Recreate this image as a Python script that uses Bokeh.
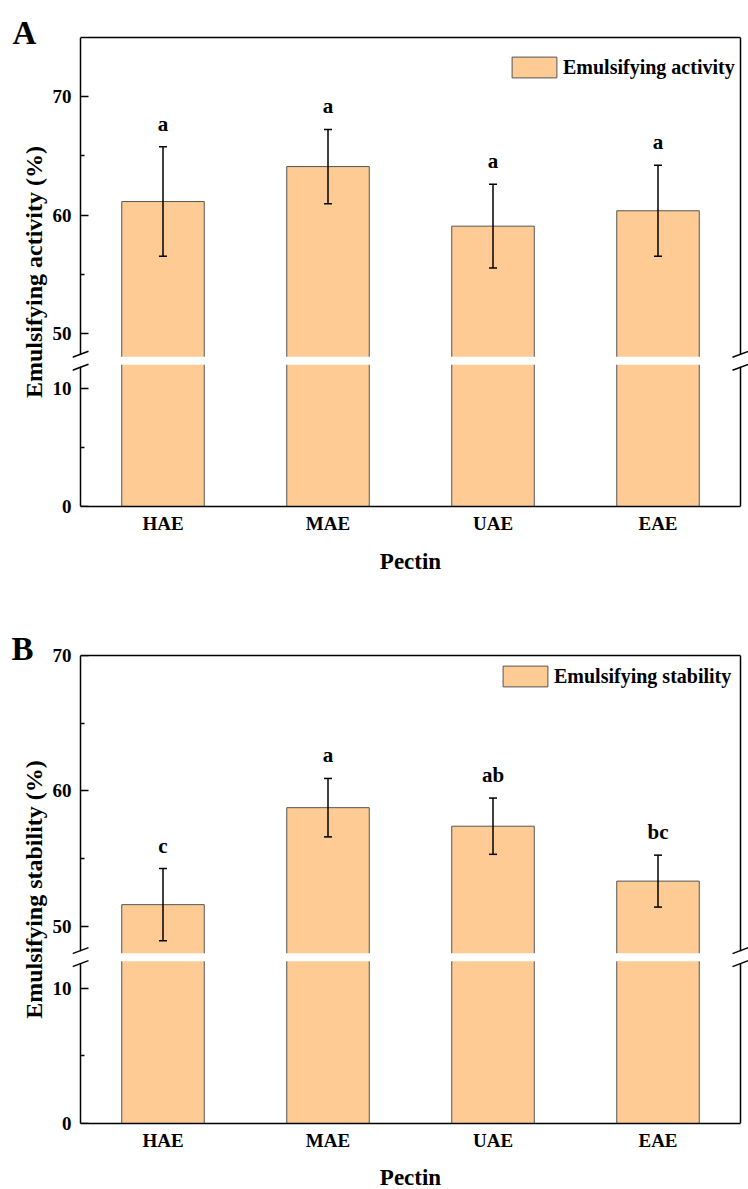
from bokeh.plotting import figure
from bokeh.models import (ColumnDataSource, FactorRange, Range1d, LinearAxis,
                          FixedTicker, CustomJSTickFormatter, Whisker, TeeHead, Legend,
                          LegendItem, Title, Arrow, BoxAnnotation, CustomLabelingPolicy)
from bokeh.layouts import column
from bokeh.embed import file_html
from bokeh.resources import INLINE
from bokeh.core.properties import value

# ---------------- data ----------------
categories = ["HAE", "MAE", "UAE", "EAE"]
activity_mean = [61.15, 64.1, 59.07, 60.37]
activity_err = [4.63, 3.14, 3.54, 3.84]
activity_letters = ["a", "a", "a", "a"]
stability_mean = [51.58, 58.75, 57.38, 53.32]
stability_err = [2.67, 2.16, 2.08, 1.92]
stability_letters = ["c", "a", "ab", "bc"]
lower_ticks = [0, 10]
lower_minor = [5]
activity_upper_ticks = [50, 60, 70]
activity_upper_minor = [55, 65]
stability_upper_ticks = [50, 60, 70]
stability_upper_minor = [55, 65]

# ---------------- style ----------------
FONT = "Liberation Serif"
BAR_FILL = "#FECB94"
BAR_LINE = "#555555"
BREAK_LOW = 12.3     # top of lower segment
BREAK_HIGH = 47.7    # bottom of upper segment
BOX_W = 660          # width of the drawn box (axes)
PAD = 8              # extra frame pixels on each side so break marks are not clipped


def make_panel(tag, ylabel, leg_label, means, errs, letters, ymax, up_ticks, up_minor,
               min_top, frame_h, min_bottom, leg_xy, tag_standoff, tag_offset,
               pectin_standoff):
    n = len(categories)
    off = BREAK_HIGH - BREAK_LOW
    disp_top = ymax - off
    dx = n / BOX_W
    dy = disp_top / frame_h
    p = figure(x_range=FactorRange(*categories, range_padding=PAD * dx,
                                   range_padding_units="absolute"),
               y_range=Range1d(0, disp_top),
               frame_width=BOX_W + 2 * PAD, frame_height=frame_h,
               min_border_left=80 - PAD, min_border_right=0,
               min_border_top=min_top, min_border_bottom=min_bottom,
               output_backend="svg", toolbar_location=None,
               background_fill_color="white", border_fill_color="white")
    p.outline_line_color = None
    p.grid.visible = False
    p.extra_y_ranges = {"upper": Range1d(off, ymax)}

    src = ColumnDataSource(dict(
        cat=categories, mean=means,
        upper=[m + e for m, e in zip(means, errs)],
        lower=[m - e for m, e in zip(means, errs)],
        letter=letters))

    # lower part of bars (lower scale) and upper part (upper scale)
    p.vbar(x="cat", bottom=0, top=BREAK_LOW, width=0.5, source=src,
           fill_color=BAR_FILL, line_color=BAR_LINE, line_width=1)
    upper_bar = p.vbar(x="cat", bottom=BREAK_HIGH, top="mean", width=0.5, source=src,
                       y_range_name="upper",
                       fill_color=BAR_FILL, line_color=BAR_LINE, line_width=1)

    p.add_layout(Whisker(source=src, base="cat", upper="upper", lower="lower",
                         y_range_name="upper", level="annotation",
                         line_color="black", line_width=1.5,
                         upper_head=TeeHead(size=8, line_width=1.5, line_color="black"),
                         lower_head=TeeHead(size=8, line_width=1.5, line_color="black")))

    p.text(x="cat", y="upper", text="letter", source=src, y_range_name="upper",
           text_align="center", text_baseline="alphabetic", y_offset=-23,
           text_font=value(FONT), text_font_style="bold", text_font_size="21px",
           text_color="black")

    # y axis: labels on the regular axis, line + inward ticks on an axis fixed at x=0
    yticker = FixedTicker(ticks=lower_ticks + [t - off for t in up_ticks],
                          minor_ticks=lower_minor + [t - off for t in up_minor])
    ya = p.yaxis[0]
    ya.ticker = yticker
    ya.formatter = CustomJSTickFormatter(args=dict(brk=BREAK_LOW, off=off),
                                         code="return String(Math.round(tick > brk ? tick + off : tick));")
    ya.axis_label = ylabel
    ya.axis_line_color = None
    ya.major_tick_in = 0
    ya.major_tick_out = 0
    ya.minor_tick_in = 0
    ya.minor_tick_out = 0
    ya.major_label_standoff = 9 - PAD
    ya.axis_label_standoff = 3

    yline = LinearAxis(ticker=yticker, fixed_location=0,
                       major_tick_in=8, major_tick_out=0, minor_tick_in=4, minor_tick_out=0,
                       major_tick_line_width=1.5, minor_tick_line_width=1.5,
                       axis_line_width=1.5, axis_line_color="black",
                       major_label_policy=CustomLabelingPolicy(
                           code="for (const i of indices) { indices.unset(i) } return indices"))
    p.add_layout(yline, "left")

    xa = p.xaxis[0]
    xa.bounds = (0, n)
    xa.axis_label = "Pectin"
    xa.major_tick_in = 0
    xa.major_tick_out = 0
    xa.major_label_standoff = 6
    xa.axis_label_standoff = pectin_standoff
    xa.axis_line_width = 1.5
    xa.axis_line_color = "black"
    for ax in (xa, ya):
        ax.major_label_text_font = FONT
        ax.major_label_text_font_style = "bold"
        ax.major_label_text_font_size = "19px"
        ax.major_label_text_color = "black"
        ax.axis_label_text_font = FONT
        ax.axis_label_text_font_style = "bold"
        ax.axis_label_text_color = "black"
    ya.axis_label_text_font_size = "24px"
    xa.axis_label_text_font_size = "23px"

    # frame lines on the right and top
    right = LinearAxis(ticker=FixedTicker(ticks=[]), fixed_location=n,
                       major_tick_in=0, major_tick_out=0, minor_tick_in=0, minor_tick_out=0,
                       axis_line_width=1.5, axis_line_color="black")
    p.add_layout(right, "right")
    topax = LinearAxis(ticker=FixedTicker(ticks=[]), bounds=(0, n),
                       major_tick_in=0, major_tick_out=0, minor_tick_in=0, minor_tick_out=0,
                       axis_line_width=1.5, axis_line_color="black")
    p.add_layout(topax, "above")

    # axis break: white band across bars, gaps in the side lines, slashes
    p.add_layout(BoxAnnotation(bottom=BREAK_LOW - 4 * dy, top=BREAK_LOW + 4 * dy,
                               left=0, right=n,
                               fill_color="white", fill_alpha=1, line_alpha=0,
                               level="annotation"))
    for x0 in (0, n):
        p.add_layout(Arrow(x_start=x0, y_start=BREAK_LOW - 6 * dy,
                           x_end=x0, y_end=BREAK_LOW + 6 * dy, end=None,
                           line_color="white", line_width=5))
        for k in (-1, 1):
            yc = BREAK_LOW + k * 6.5 * dy
            p.add_layout(Arrow(x_start=x0 - 8 * dx, y_start=yc - 3 * dy,
                               x_end=x0 + 8 * dx, y_end=yc + 3 * dy, end=None,
                               line_color="black", line_width=1.5))

    legend = Legend(items=[LegendItem(label=leg_label, renderers=[upper_bar])],
                    location=leg_xy, padding=5, margin=0, spacing=0,
                    glyph_width=56, glyph_height=26, label_standoff=1,
                    border_line_alpha=0, background_fill_alpha=0,
                    label_text_font=FONT, label_text_font_style="bold",
                    label_text_font_size="20px", label_text_color="black")
    p.add_layout(legend)

    # panel tag
    p.title = Title(text=tag, align="left", vertical_align="bottom",
                    offset=tag_offset, standoff=tag_standoff,
                    text_font=FONT, text_font_style="bold",
                    text_font_size="33px", text_color="black")
    return p


pA = make_panel("A", "Emulsifying activity (%)", "Emulsifying activity",
                activity_mean, activity_err, activity_letters, 75,
                activity_upper_ticks, activity_upper_minor,
                min_top=37, frame_h=469, min_bottom=102,
                leg_xy=(421 + PAD, 421), tag_standoff=-26, tag_offset=12 - (80 - PAD),
                pectin_standoff=12)
pB = make_panel("B", "Emulsifying stability (%)", "Emulsifying stability",
                stability_mean, stability_err, stability_letters, 70,
                stability_upper_ticks, stability_upper_minor,
                min_top=47, frame_h=468, min_bottom=66,
                leg_xy=(412 + PAD, 429), tag_standoff=-22, tag_offset=11 - (80 - PAD),
                pectin_standoff=11)

layout = column(pA, pB, spacing=0)
open("out.html", "w").write(file_html(layout, INLINE))
